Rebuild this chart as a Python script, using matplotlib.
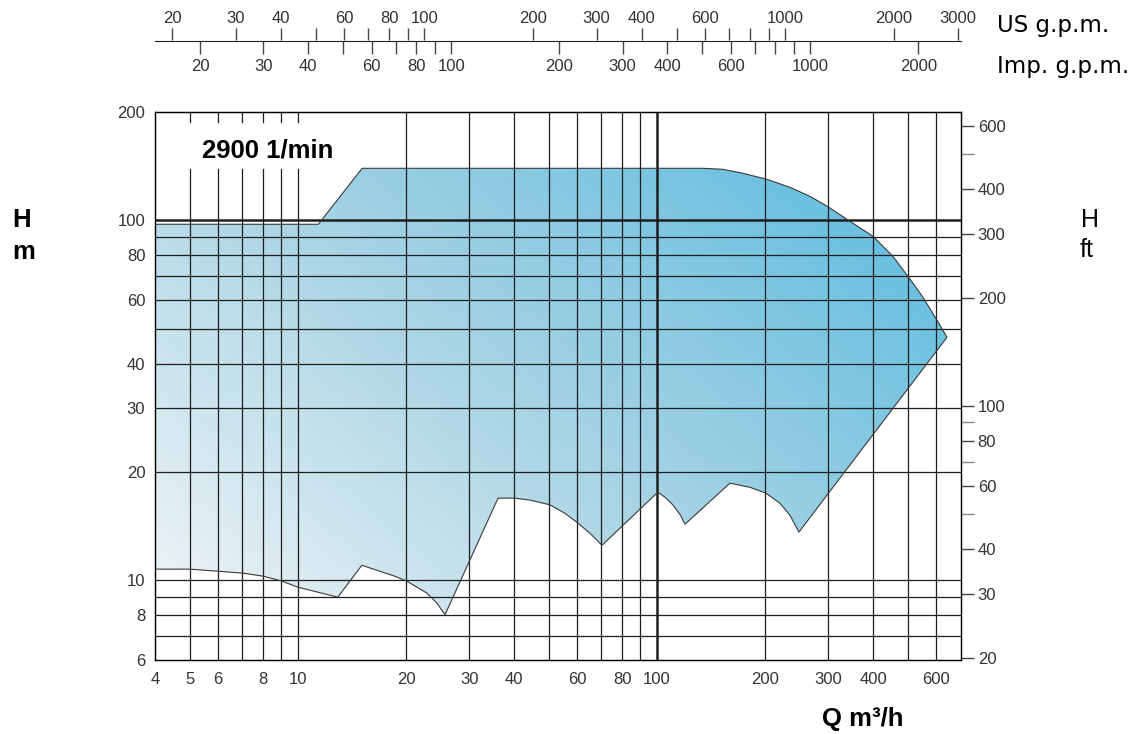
import numpy as np
import matplotlib.pyplot as plt
from matplotlib.patches import Polygon
from matplotlib.colors import LinearSegmentedColormap
from matplotlib.ticker import NullFormatter, NullLocator

plt.rcParams['font.family'] = ['Liberation Sans', 'DejaVu Sans']

# pump range envelope (Q in m3/h, H in m)
# upper edge, left to right
top_q = [4.0, 11.4, 15.1, 134.4, 152.7, 173.6, 202.5, 234.7, 266.8, 301.3, 344.8,
         399.6, 454.3, 500.2, 550.8, 602.6, 642.4]
top_h = [97.5, 97.5, 139.5, 139.5, 138.6, 135.1, 130.0, 123.5, 116.6, 108.7, 99.4,
         90.3, 79.4, 69.9, 61.1, 52.8, 47.3]
# lower edge, right to left
bottom_q = [248.6, 234.7, 220.0, 201.2, 181.5, 159.7,
            119.7, 116.3, 110.7, 105.3, 100.6,
            70.3, 65.1, 60.3, 55.4, 50.3, 44.3, 40.2, 36.1,
            25.7, 24.4, 22.9, 20.1, 18.6, 17.25, 15.07,
            12.92, 11.37, 10.0, 9.03, 8.0, 7.03, 5.99, 5.0, 4.0]
bottom_h = [13.6, 15.15, 16.37, 17.45, 18.12, 18.6,
            14.3, 15.15, 16.2, 17.0, 17.56,
            12.5, 13.5, 14.4, 15.35, 16.2, 16.69, 16.9, 16.9,
            8.02, 8.63, 9.2, 9.94, 10.26, 10.52, 11.0,
            8.97, 9.26, 9.56, 9.94, 10.26, 10.46, 10.59, 10.73, 10.73]

q_ticks = [4, 5, 6, 8, 10, 20, 30, 40, 60, 80, 100, 200, 300, 400, 600]
q_grid = [5, 6, 7, 8, 9, 10, 20, 30, 40, 50, 60, 70, 80, 90, 100, 200, 300, 400, 500, 600]
h_ticks = [6, 8, 10, 20, 30, 40, 60, 80, 100, 200]
h_grid = [7, 8, 9, 10, 20, 30, 40, 50, 60, 70, 80, 90, 100]
ft_ticks = [20, 30, 40, 60, 80, 100, 200, 300, 400, 600]
ft_minor = [50, 70, 90, 500]
us_ticks = [20, 30, 40, 60, 80, 100, 200, 300, 400, 600, 1000, 2000, 3000]
us_minor = [50, 70, 90, 500, 700, 800, 900]
imp_ticks = [20, 30, 40, 60, 80, 100, 200, 300, 400, 600, 1000, 2000]
imp_minor = [50, 70, 90, 500, 700, 800, 900]

Q_MIN, Q_MAX = 4, 703
H_MIN, H_MAX = 6, 200
M_TO_FT = 1 / 0.3048
US_LIM = (17.95, 3086)   # US scale as printed on the sheet
IMP_GPM = 3.74           # Imp. g.p.m. per m3/h as printed (nominal 3.666)

W, H = 1139, 734
fig = plt.figure(figsize=(W / 100, H / 100), dpi=100)
ax = fig.add_axes([155 / W, 1 - 660 / H, 806 / W, 548 / H])
ax.set_xscale('log')
ax.set_yscale('log')
ax.set_xlim(Q_MIN, Q_MAX)
ax.set_ylim(H_MIN, H_MAX)

# gradient fill clipped to the envelope
env = Polygon(np.column_stack([top_q + bottom_q, top_h + bottom_h]), closed=True,
              facecolor='none', edgecolor='#3a3a3a', lw=0.8, zorder=3)
ax.add_patch(env)
u, v = np.meshgrid(np.linspace(0, 1, 400), np.linspace(0, 1, 300))
t = np.clip((1.26 * u + v) / 2.0, 0, 1)
cmap = LinearSegmentedColormap.from_list('fill', ['#f7f8f8', '#aad5e5', '#63bde0'])
img = ax.imshow(t, cmap=cmap, origin='lower', extent=[0, 1, 0, 1], transform=ax.transAxes,
                aspect='auto', zorder=1, interpolation='bilinear')
img.set_clip_path(env)
ax.set_xlim(Q_MIN, Q_MAX)
ax.set_ylim(H_MIN, H_MAX)

# grid
grid_c = '#1e1e1e'
for q in q_grid:
    lw = 1.8 if q == 100 else 0.9
    if q <= 10:
        # gap behind the speed label
        ax.plot([q, q], [H_MIN, 138.6], color=grid_c, lw=lw, zorder=2)
        ax.plot([q, q], [188, H_MAX], color=grid_c, lw=lw, zorder=2)
    else:
        ax.axvline(q, color=grid_c, lw=lw, zorder=2)
for h in h_grid:
    ax.axhline(h, color=grid_c, lw=1.8 if h == 100 else 0.9, zorder=2)

for s in ax.spines.values():
    s.set_color('#222')
    s.set_linewidth(1.0)

ax.set_xticks(q_ticks)
ax.set_xticklabels([str(q) for q in q_ticks])
ax.set_yticks(h_ticks)
ax.set_yticklabels([str(h) for h in h_ticks])
ax.xaxis.set_minor_locator(NullLocator())
ax.yaxis.set_minor_locator(NullLocator())
ax.tick_params(length=0, labelsize=12, labelcolor='#333')
ax.tick_params(axis='x', pad=9)
ax.tick_params(axis='y', pad=7)

# right axis in feet
axr = ax.twinx()
axr.set_yscale('log')
axr.set_ylim(H_MIN * M_TO_FT, H_MAX * M_TO_FT)
axr.set_yticks(ft_ticks)
axr.set_yticklabels([str(f) for f in ft_ticks])
axr.set_yticks(ft_minor, minor=True)
axr.yaxis.set_minor_formatter(NullFormatter())
axr.tick_params(which='both', direction='out', length=9, width=1, color='#444',
                labelsize=12, labelcolor='#333', pad=3)
axr.tick_params(which='minor', color='#888')


# top scales: US and Imperial gallons per minute
def gpm_axis(right_px, lim, ticks, minor, side, pad):
    a = fig.add_axes([155 / W, 1 - 40.5 / H, (right_px - 155) / W, 1e-4])
    a.set_xscale('log')
    a.set_xlim(*lim)
    a.set_yticks([])
    a.patch.set_visible(False)
    for s in a.spines.values():
        s.set_visible(False)
    a.spines['bottom'].set_visible(side == 'bottom')
    a.spines['bottom'].set_color('#222')
    a.xaxis.set_ticks_position(side)
    a.set_xticks(ticks)
    a.set_xticklabels([str(x) for x in ticks])
    a.set_xticks(minor, minor=True)
    a.xaxis.set_minor_formatter(NullFormatter())
    a.tick_params(which='both', direction='out', length=9, width=1, color='#444',
                  labelsize=12, labelcolor='#333', pad=pad)
    return a


gpm_axis(962, US_LIM, us_ticks, us_minor, 'top', 1.5)
gpm_axis(961, (Q_MIN * IMP_GPM, Q_MAX * IMP_GPM), imp_ticks, imp_minor, 'bottom', 4)

# labels
fig.text(202 / W, 1 - 157 / H, '2900 1/min', fontsize=18.5, fontweight='bold', va='baseline')
fig.text(12 / W, 1 - 227 / H, 'H', fontsize=18.5, fontweight='bold', va='baseline')
fig.text(12 / W, 1 - 259 / H, 'm', fontsize=18.5, fontweight='bold', va='baseline')
fig.text(1081 / W, 1 - 227 / H, 'H', fontsize=18, va='baseline')
fig.text(1080 / W, 1 - 257 / H, 'ft', fontsize=18, va='baseline')
fig.text(997 / W, 1 - 32 / H, 'US g.p.m.', fontsize=16.5, va='baseline', family='DejaVu Sans')
fig.text(997 / W, 1 - 73 / H, 'Imp. g.p.m.', fontsize=16.5, va='baseline', family='DejaVu Sans')
fig.text(822 / W, 1 - 726 / H, 'Q m³/h', fontsize=18.5, fontweight='bold', va='baseline')

fig.savefig('out.png', dpi=100)
